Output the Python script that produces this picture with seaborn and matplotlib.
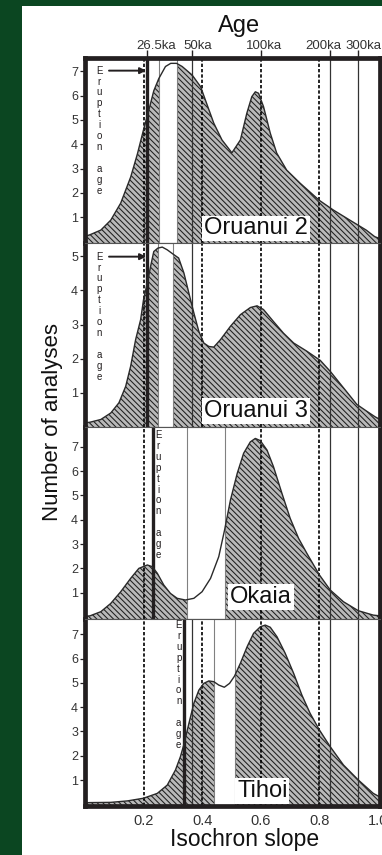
import numpy as np
import pandas as pd
import matplotlib
matplotlib.use("Agg")
import matplotlib.pyplot as plt
from matplotlib.patches import Rectangle
import seaborn as sns

# ---- data: probability curves of isochron slopes (number of analyses) ----
oruanui2_slope = [0.000, 0.015, 0.054, 0.088, 0.122, 0.156, 0.179, 0.200, 0.218, 0.235,
                  0.252, 0.275, 0.293, 0.313, 0.332, 0.366, 0.395, 0.412, 0.440, 0.468,
                  0.502, 0.531, 0.553, 0.570, 0.582, 0.593, 0.610, 0.633, 0.655, 0.689,
                  0.735, 0.800, 0.848, 0.905, 0.961, 0.990, 1.008]
oruanui2_count = [0.22, 0.27, 0.47, 0.88, 1.58, 2.65, 3.60, 4.60, 5.40, 6.20,
                  6.70, 7.20, 7.33, 7.33, 7.20, 6.85, 6.37, 5.80, 4.87, 4.18,
                  3.65, 4.18, 5.28, 5.96, 6.16, 6.10, 5.55, 4.46, 3.64, 2.94,
                  2.40, 1.70, 1.30, 0.88, 0.47, 0.20, 0.12]

oruanui3_slope = [0.000, 0.017, 0.054, 0.088, 0.116, 0.139, 0.156, 0.173, 0.190, 0.200,
                  0.213, 0.224, 0.235, 0.249, 0.264, 0.281, 0.300, 0.320, 0.338, 0.355,
                  0.372, 0.389, 0.406, 0.423, 0.440, 0.463, 0.497, 0.531, 0.565, 0.588,
                  0.610, 0.644, 0.678, 0.713, 0.758, 0.804, 0.838, 0.883, 0.929, 0.963,
                  0.991, 1.008]
oruanui3_count = [0.12, 0.14, 0.22, 0.41, 0.71, 1.19, 1.78, 2.56, 3.14, 3.73,
                  4.22, 4.70, 5.14, 5.24, 5.27, 5.19, 5.07, 4.95, 4.51, 3.92,
                  3.34, 2.80, 2.46, 2.36, 2.34, 2.56, 2.95, 3.29, 3.50, 3.55,
                  3.44, 3.09, 2.75, 2.46, 2.22, 1.95, 1.63, 1.15, 0.66, 0.46,
                  0.30, 0.22]

okaia_slope = [0.000, 0.017, 0.054, 0.088, 0.122, 0.156, 0.184, 0.213, 0.230, 0.247,
               0.269, 0.292, 0.315, 0.343, 0.372, 0.400, 0.429, 0.457, 0.477, 0.497,
               0.520, 0.542, 0.565, 0.582, 0.599, 0.622, 0.644, 0.673, 0.701, 0.730,
               0.758, 0.801, 0.838, 0.883, 0.934, 0.985, 1.008]
okaia_count = [0.03, 0.05, 0.22, 0.56, 1.04, 1.59, 2.00, 2.14, 2.07, 1.80,
               1.32, 0.97, 0.77, 0.70, 0.77, 1.04, 1.59, 2.48, 3.58, 4.81,
               5.90, 6.73, 7.20, 7.34, 7.25, 6.86, 6.18, 5.08, 4.06, 3.23,
               2.62, 1.73, 1.11, 0.63, 0.26, 0.08, 0.05]

tihoi_slope = [0.000, 0.017, 0.088, 0.145, 0.200, 0.247, 0.281, 0.309, 0.326, 0.339,
               0.355, 0.372, 0.389, 0.406, 0.423, 0.440, 0.457, 0.476, 0.494, 0.511,
               0.531, 0.554, 0.576, 0.599, 0.616, 0.633, 0.656, 0.684, 0.713, 0.741,
               0.769, 0.801, 0.838, 0.883, 0.934, 0.985, 1.008]
tihoi_count = [0.06, 0.07, 0.08, 0.14, 0.25, 0.45, 0.79, 1.41, 1.96, 2.51,
               3.33, 4.16, 4.70, 4.98, 5.08, 5.05, 4.91, 4.82, 4.98, 5.28,
               5.81, 6.49, 7.04, 7.31, 7.38, 7.29, 6.90, 6.22, 5.39, 4.50,
               3.75, 3.06, 2.37, 1.62, 1.00, 0.45, 0.30]

unit_names = ["Oruanui 2", "Oruanui 3", "Okaia", "Tihoi"]
unit_slopes = [oruanui2_slope, oruanui3_slope, okaia_slope, tihoi_slope]
unit_counts = [oruanui2_count, oruanui3_count, okaia_count, tihoi_count]
y_max_tick = [7, 5, 7, 7]
y_limits = [(-0.06, 7.55), (0.0, 5.39), (-0.08, 7.81), (-0.07, 7.63)]

# eruption age of each unit, in isochron slope
eruption_slope = [0.213, 0.213, 0.233, 0.339]
# slope interval left unshaded in each unit
blank_span = [(0.252, 0.313), (0.249, 0.300), (0.347, 0.477), (0.440, 0.511)]

# age scale (top axis)
age_labels = ["26.5ka", "50ka", "100ka", "200ka", "300ka"]
age_slopes = [0.213, 0.366, 0.600, 0.838, 0.932]
age_label_nudge = [6.2, 4.2, 2.2, -5.0, 4.0]   # points
age_lines = [0.366, 0.838, 0.932]             # solid reference lines

slope_ticks = [0.2, 0.4, 0.6, 0.8, 1.0]
slope_grid = [0.2, 0.4, 0.6, 0.8]

# label placement (slope, count) for each unit
label_pos = [(0.585, 0.54), (0.585, 0.47), (0.602, 0.83), (0.606, 0.56)]
erupt_text_pos = [(0.049, 7.03), (0.049, 4.99), (0.251, 7.48), (0.320, 7.38)]
arrow_level = [7.03, 4.99, None, None]

# ---- style ----
sns.set_theme(style="white")
plt.rcParams["font.family"] = ["Liberation Sans", "DejaVu Sans"]
plt.rcParams["hatch.linewidth"] = 0.75
plt.rcParams["hatch.color"] = "#1f1f1f"

INK = "#231f20"
TXT = "#333333"

fig = plt.figure(figsize=(3.82, 8.55), dpi=100, facecolor="#0b4621")
fig.add_artist(Rectangle((22 / 382, 0), 1 - 22 / 382, 1 - 6 / 855,
                         transform=fig.transFigure, facecolor="white",
                         edgecolor="none", zorder=0))

gs = fig.add_gridspec(4, 1, left=85 / 382, right=380 / 382,
                      top=1 - 58 / 855, bottom=1 - 806 / 855, hspace=0,
                      height_ratios=[185, 184, 192, 187])
axes = []
for i in range(4):
    ax = fig.add_subplot(gs[i], sharex=axes[0] if axes else None)
    axes.append(ax)

for i, ax in enumerate(axes):
    ax.set_facecolor("white")
    df = pd.DataFrame({"slope": unit_slopes[i], "count": unit_counts[i]})

    # hatched density
    ax.fill_between(df["slope"], df["count"], -1, facecolor="#b9b9b9",
                    edgecolor="#1f1f1f", hatch="\\" * 6, linewidth=0, zorder=1)

    # slope grid (dashed) and age reference lines (solid)
    for v in slope_grid:
        ax.axvline(v, color="black", lw=1.2, ls=(0, (2.0, 1.2)), zorder=2)
    for v in age_lines:
        ax.axvline(v, color=TXT, lw=0.9, zorder=2)

    # unshaded interval
    a, b = blank_span[i]
    ax.axvspan(a, b, facecolor="white", edgecolor="#808080", lw=0.8, zorder=3)

    # eruption age line
    ax.axvline(eruption_slope[i], color=INK, lw=2.4, zorder=4)

    # density curve
    sns.lineplot(data=df, x="slope", y="count", ax=ax, color="#2a2a2a",
                 lw=1.0, zorder=5, estimator=None)

    # vertical "Eruption age" caption
    ex, ey = erupt_text_pos[i]
    for k, ch in enumerate("Eruption age"):
        if ch != " ":
            ax.annotate(ch, xy=(ex, ey), xytext=(0, -k * 7.85),
                        textcoords="offset points", ha="center", va="center",
                        fontsize=7, color=INK, zorder=7)
    if arrow_level[i] is not None:
        ax.annotate("", xy=(eruption_slope[i] - 0.004, arrow_level[i]),
                    xytext=(0.082, arrow_level[i]),
                    arrowprops=dict(arrowstyle="-|>", color=INK, lw=1.4,
                                    mutation_scale=9, shrinkA=0, shrinkB=0),
                    zorder=7)

    # unit name
    lx, ly = label_pos[i]
    ax.text(lx, ly, unit_names[i], ha="center", va="center", fontsize=17,
            color="#111111", zorder=8,
            bbox=dict(boxstyle="square,pad=0.08", facecolor="white",
                      edgecolor="none"))

    ax.set_xlim(0.0, 1.008)
    ax.set_ylim(*y_limits[i])
    ax.set_yticks(range(1, y_max_tick[i] + 1))
    ax.set_yticklabels([str(t) for t in range(1, y_max_tick[i] + 1)])
    ax.tick_params(axis="y", left=True, direction="out", length=3.5, width=0.9,
                   color=INK, labelcolor=TXT, labelsize=9, pad=1.5)
    ax.set_xlabel("")
    ax.set_ylabel("")

    for name, sp in ax.spines.items():
        sp.set_zorder(10)
        sp.set_color(INK)
        sp.set_linewidth(3.4)
    if i > 0:
        ax.spines["top"].set_linewidth(0.8)
        ax.spines["top"].set_color("#555555")
    if i < 3:
        ax.spines["bottom"].set_linewidth(0.8)
        ax.spines["bottom"].set_color("#555555")
        ax.tick_params(axis="x", bottom=False, labelbottom=False)

# bottom slope axis
axes[3].set_xticks(slope_ticks)
axes[3].set_xticklabels([f"{v:.1f}" for v in slope_ticks])
axes[3].tick_params(axis="x", bottom=True, length=0, pad=6, labelsize=10.5,
                    labelcolor=TXT)

# top age axis
secax = axes[0].secondary_xaxis("top")
secax.set_xticks(age_slopes)
secax.set_xticklabels([""] * len(age_slopes))
secax.tick_params(axis="x", top=True, direction="out", length=6, width=1.0,
                  color=INK)
secax.spines["top"].set_visible(False)
for lab, v, dx in zip(age_labels, age_slopes, age_label_nudge):
    axes[0].annotate(lab, xy=(v, 1), xycoords=("data", "axes fraction"),
                     xytext=(dx, 6.5), textcoords="offset points",
                     ha="center", va="baseline", fontsize=9.5, color=TXT,
                     annotation_clip=False)

fig.text(239 / 382, 1 - 32 / 855, "Age", ha="center", va="baseline",
         fontsize=17, color="#111111")
fig.text(245 / 382, 1 - 846 / 855, "Isochron slope", ha="center",
         va="baseline", fontsize=16.5, color="#111111")
fig.text(53 / 382, 0.507, "Number of analyses", rotation=90, ha="center",
         va="center", fontsize=16, color="#111111")

fig.savefig("out.png", dpi=100, facecolor=fig.get_facecolor())
